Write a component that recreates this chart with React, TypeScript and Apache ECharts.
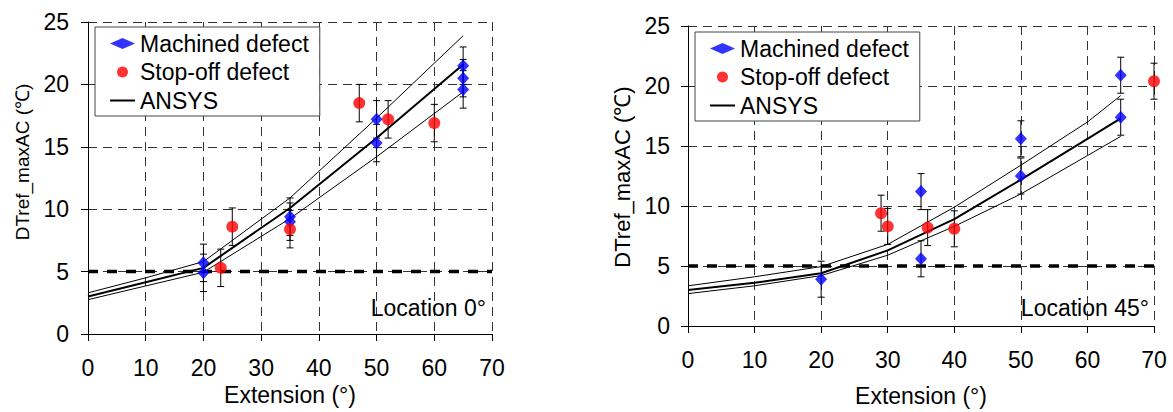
import React, { useEffect, useRef } from "react";
import * as echarts from "echarts";

const FONT = "'Liberation Sans', Arial, sans-serif";

// Axis ticks
const X_MIN = 0, X_MAX = 70, X_STEP = 10;
const Y_MIN = 0, Y_MAX = 25, Y_STEP = 5;
const THRESHOLD = 5;

// Left chart: Location 0°
const leftMachinedX = [20, 20, 35, 35, 50, 50, 65, 65, 65];
const leftMachinedY = [5.7, 4.9, 9.4, 9.0, 17.2, 15.3, 21.5, 20.5, 19.6];
const leftMachinedErr = [1.5, 1.5, 1.5, 1.5, 1.5, 1.5, 1.5, 1.5, 1.5];
const leftStopX = [23, 25, 35, 47, 52, 60];
const leftStopY = [5.3, 8.6, 8.4, 18.5, 17.2, 16.9];
const leftStopErr = [1.5, 1.5, 1.5, 1.5, 1.5, 1.5];
const leftAnsysX = [0, 10, 20, 35, 50, 65];
const leftAnsysMean = [3.0, 4.15, 5.3, 10.1, 15.7, 21.6];
const leftAnsysUpper = [3.3, 4.5, 5.8, 10.9, 17.3, 23.9];
const leftAnsysLower = [2.75, 3.85, 4.95, 9.25, 14.2, 19.4];

// Right chart: Location 45°
const rightMachinedX = [20, 35, 35, 50, 50, 65, 65];
const rightMachinedY = [3.9, 11.2, 5.6, 15.6, 12.5, 20.9, 17.4];
const rightMachinedErr = [1.5, 1.5, 1.5, 1.5, 1.5, 1.5, 1.5];
const rightStopX = [29, 30, 36, 40, 70];
const rightStopY = [9.4, 8.3, 8.2, 8.1, 20.4];
const rightStopErr = [1.5, 1.5, 1.5, 1.5, 1.5];
const rightAnsysX = [0, 10, 20, 30, 40, 50, 60, 65];
const rightAnsysMean = [3.0, 3.6, 4.4, 6.3, 8.9, 12.2, 15.6, 17.3];
const rightAnsysUpper = [3.35, 4.1, 4.95, 6.8, 9.9, 13.4, 17.0, 19.2];
const rightAnsysLower = [2.7, 3.35, 4.2, 5.9, 8.3, 11.0, 14.2, 15.8];

const NAMES = ["Machined defect", "Stop-off defect", "ANSYS"];
const X_NAME = "Extension (°)";
const Y_NAME = "DTref_maxAC (℃)";
const LABELS = ["Location 0°", "Location 45°"];

const zip = (xs: number[], ys: number[]) => xs.map((x, i) => [x, ys[i]]);
const errData = (xs: number[], ys: number[], es: number[]) =>
  xs.map((x, i) => [x, ys[i] - es[i], ys[i] + es[i]]);

const renderErr = (params: any, api: any) => {
  const x = api.value(0);
  const lo = api.coord([x, api.value(1)]);
  const hi = api.coord([x, api.value(2)]);
  const w = 3.5;
  const st = { stroke: "#000", lineWidth: 1 };
  return {
    type: "group",
    children: [
      { type: "line", shape: { x1: lo[0], y1: lo[1], x2: hi[0], y2: hi[1] }, style: st },
      { type: "line", shape: { x1: lo[0] - w, y1: lo[1], x2: lo[0] + w, y2: lo[1] }, style: st },
      { type: "line", shape: { x1: hi[0] - w, y1: hi[1], x2: hi[0] + w, y2: hi[1] }, style: st },
    ],
  };
};

function seriesFor(idx: number, mx: number[], my: number[], me: number[], sx: number[], sy: number[], se: number[], ax: number[], am: number[], au: number[], al: number[]) {
  const base = { xAxisIndex: idx, yAxisIndex: idx };
  return [
    {
      ...base, type: "line", name: "threshold" + idx, data: [[X_MIN, THRESHOLD], [X_MAX, THRESHOLD]],
      symbol: "none", silent: true, z: 2,
      lineStyle: { color: "#000", width: 3.5, type: [10, 9] },
    },
    {
      ...base, type: "line", name: "upper" + idx, data: zip(ax, au), symbol: "none", z: 3,
      lineStyle: { color: "#000", width: 1 },
    },
    {
      ...base, type: "line", name: "lower" + idx, data: zip(ax, al), symbol: "none", z: 3,
      lineStyle: { color: "#000", width: 1 },
    },
    {
      ...base, type: "line", name: NAMES[2], data: zip(ax, am), symbol: "none", z: 3,
      lineStyle: { color: "#000", width: 2 }, itemStyle: { color: "#000" },
    },
    {
      ...base, type: "custom", name: "errM" + idx, data: errData(mx, my, me), renderItem: renderErr,
      encode: { x: 0, y: [1, 2] }, clip: false, z: 4, silent: true,
    },
    {
      ...base, type: "custom", name: "errS" + idx, data: errData(sx, sy, se), renderItem: renderErr,
      encode: { x: 0, y: [1, 2] }, clip: false, z: 4, silent: true,
    },
    {
      ...base, type: "scatter", name: NAMES[0], data: zip(mx, my), symbol: "diamond",
      symbolSize: [12, 13], itemStyle: { color: "#0000FF" }, clip: false, z: 5,
    },
    {
      ...base, type: "scatter", name: NAMES[1], data: zip(sx, sy), symbol: "circle",
      symbolSize: 12, itemStyle: { color: "#FF0000" }, clip: false, z: 6,
    },
  ];
}

const gridLine = { show: true, lineStyle: { color: "#333", width: 1, type: [9, 6] } };

function xAxisFor(idx: number, labelMargin: number, nameGap: number) {
  return {
    type: "value", gridIndex: idx, min: X_MIN, max: X_MAX, interval: X_STEP,
    name: X_NAME, nameLocation: "middle", nameGap,
    nameTextStyle: { fontFamily: FONT, fontSize: 23, color: "#000" },
    axisLine: { show: true, lineStyle: { color: "#000", width: 1 } },
    axisTick: { show: true, length: 7, lineStyle: { color: "#000" } },
    axisLabel: { margin: labelMargin, fontFamily: FONT, fontSize: 23, color: "#000" },
    splitLine: gridLine,
  };
}

function yAxisFor(idx: number, labelMargin: number) {
  return {
    type: "value", gridIndex: idx, min: Y_MIN, max: Y_MAX, interval: Y_STEP,
    axisLine: { show: true, onZero: false, lineStyle: { color: "#000", width: 1 } },
    axisTick: { show: true, length: 7, lineStyle: { color: "#000" } },
    axisLabel: { margin: labelMargin, fontFamily: FONT, fontSize: 23, color: "#000" },
    splitLine: gridLine,
  };
}

function legendFor(left: number, top: number) {
  return {
    left, top, orient: "vertical",
    data: [
      { name: NAMES[0] },
      { name: NAMES[1] },
      { name: NAMES[2], icon: "path://M0,0 L25,0 L25,2 L0,2 Z" },
    ],
    padding: [5, 11, 4, 15], itemGap: 5.5, itemWidth: 25, itemHeight: 11,
    borderColor: "#444", borderWidth: 1, backgroundColor: "#fff",
    textStyle: { fontFamily: FONT, fontSize: 23, color: "#000" },
    selectedMode: false,
  };
}

function yTitle(x: number, y: number, size: number) {
  return {
    type: "text", x, y, rotation: Math.PI / 2, z: 10,
    style: { text: Y_NAME, align: "center", verticalAlign: "middle", font: `${size}px ${FONT}`, fill: "#000" },
  };
}

export default function App() {
  const ref = useRef<HTMLDivElement>(null);
  useEffect(() => {
    if (!ref.current) return;
    const chart = echarts.init(ref.current, null, { renderer: "svg" });
    chart.setOption({
      animation: false,
      backgroundColor: "#fff",
      grid: [
        { left: 88, top: 22, width: 404, height: 312 },
        { left: 688, top: 26, width: 466, height: 305 },
      ],
      xAxis: [xAxisFor(0, 22, 49), xAxisFor(1, 22, 58)],
      yAxis: [yAxisFor(0, 19), yAxisFor(1, 18)],
      legend: [legendFor(95, 27), legendFor(695, 32)],
      graphic: [
        yTitle(22, 162, 19),
        yTitle(622, 177, 22),
        {
          type: "text", x: 486, y: 308, z: 10,
          style: { text: LABELS[0], align: "right", verticalAlign: "middle", font: `23px ${FONT}`, fill: "#000" },
        },
        {
          type: "text", x: 1149, y: 308, z: 10,
          style: { text: LABELS[1], align: "right", verticalAlign: "middle", font: `23px ${FONT}`, fill: "#000" },
        },
      ],
      series: [
        ...seriesFor(0, leftMachinedX, leftMachinedY, leftMachinedErr, leftStopX, leftStopY, leftStopErr, leftAnsysX, leftAnsysMean, leftAnsysUpper, leftAnsysLower),
        ...seriesFor(1, rightMachinedX, rightMachinedY, rightMachinedErr, rightStopX, rightStopY, rightStopErr, rightAnsysX, rightAnsysMean, rightAnsysUpper, rightAnsysLower),
      ],
    });
    return () => chart.dispose();
  }, []);
  return <div ref={ref} style={{ position: "fixed", left: 0, top: 0, width: 1173, height: 412 }} />;
}
